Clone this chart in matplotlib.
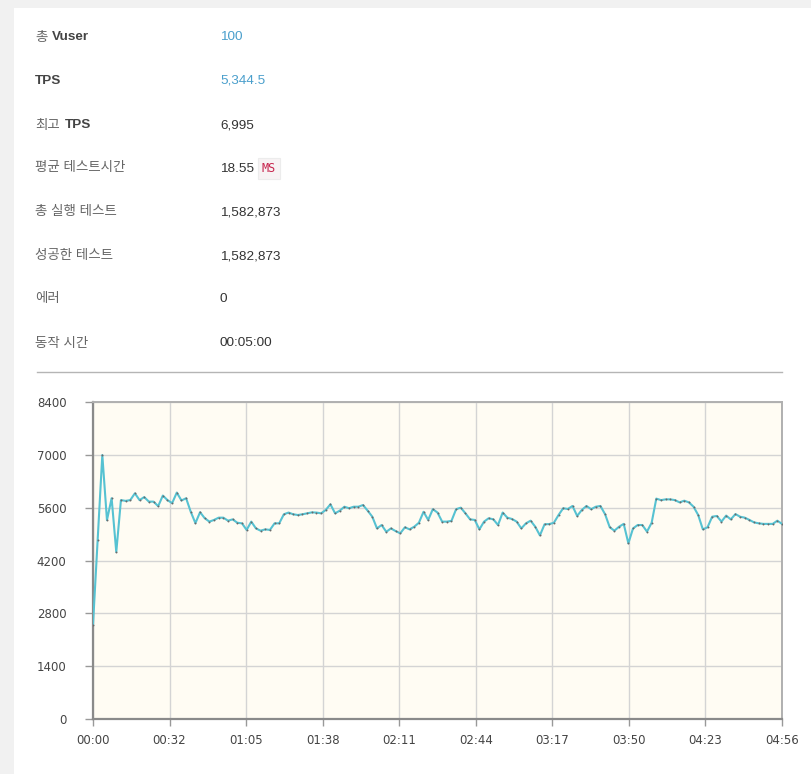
import numpy as np
import matplotlib
matplotlib.use("Agg")
import matplotlib.pyplot as plt
from matplotlib.patches import Rectangle
from matplotlib.lines import Line2D

# ---- data ----
interval_sec = 2
tps_values = [
    2500, 4750, 6995, 5270, 5850, 4425, 5800, 5780, 5800, 5980,
    5800, 5880, 5760, 5760, 5640, 5920, 5800, 5720, 6000, 5790,
    5850, 5490, 5190, 5480, 5320, 5230, 5275, 5335, 5335, 5255,
    5290, 5200, 5185, 5010, 5230, 5050, 4990, 5025, 5010, 5185,
    5185, 5425, 5470, 5425, 5405, 5425, 5450, 5475, 5470, 5450,
    5540, 5690, 5450, 5520, 5625, 5585, 5625, 5625, 5670, 5520,
    5360, 5050, 5140, 4960, 5050, 4980, 4920, 5080, 5025, 5095,
    5200, 5490, 5275, 5560, 5470, 5230, 5230, 5250, 5560, 5600,
    5450, 5290, 5275, 5025, 5230, 5320, 5290, 5140, 5470, 5335,
    5300, 5230, 5050, 5185, 5255, 5095, 4865, 5160, 5165, 5200,
    5405, 5585, 5565, 5645, 5380, 5540, 5645, 5560, 5625, 5645,
    5425, 5080, 4990, 5095, 5170, 4655, 5050, 5140, 5140, 4965,
    5200, 5840, 5800, 5820, 5820, 5800, 5740, 5785, 5740, 5625,
    5405, 5025, 5080, 5360, 5380, 5230, 5390, 5290, 5430, 5360,
    5335, 5275, 5210, 5185, 5170, 5170, 5170, 5255, 5170,
]
x_tick_labels = ["00:00", "00:32", "01:05", "01:38", "02:11",
                 "02:44", "03:17", "03:50", "04:23", "04:56"]
x_max_sec = 296
y_ticks = [0, 1400, 2800, 4200, 5600, 7000, 8400]

summary_labels = ["총 Vuser", "TPS", "최고 TPS", "평균 테스트시간",
                  "총 실행 테스트", "성공한 테스트", "에러", "동작 시간"]
summary_values = ["100", "5,344.5", "6,995", "18.55",
                  "1,582,873", "1,582,873", "0", "00:05:00"]

# ---- figure ----
W, H = 812, 774
fig = plt.figure(figsize=(W / 100, H / 100), dpi=100)
fig.patch.set_facecolor("#f1f1f1")

def fx(x):
    return x / W

def fy(y):
    return 1 - y / H

# white panel
fig.patches.append(Rectangle((fx(14), 0), 1 - fx(14), fy(8), transform=fig.transFigure,
                             facecolor="white", edgecolor="none", zorder=-10))

KR = ["Liberation Sans", "Noto Sans CJK KR", "DejaVu Sans"]
row_y = [37.5, 80.5, 125.5, 168.5, 212.5, 256.5, 299.5, 343.5]
label_color = "#666666"
bold_color = "#444444"
val_color = "#333333"
blue = "#4a9fcc"
fs = 9.7

for i, (lab, val) in enumerate(zip(summary_labels, summary_values)):
    y = fy(row_y[i])
    if lab == "총 Vuser":
        fig.text(fx(35), y, "총", family=KR, fontsize=fs, color=label_color, va="center")
        fig.text(fx(52), y, "Vuser", family=KR, fontsize=fs, color=bold_color,
                 weight="bold", va="center")
    elif lab == "TPS":
        fig.text(fx(35), y, "TPS", family=KR, fontsize=fs, color=bold_color,
                 weight="bold", va="center")
    elif lab == "최고 TPS":
        fig.text(fx(35), y, "최고", family=KR, fontsize=fs, color=label_color, va="center")
        fig.text(fx(65), y, "TPS", family=KR, fontsize=fs, color=bold_color,
                 weight="bold", va="center")
    else:
        fig.text(fx(35), y, lab, family=KR, fontsize=fs, color=label_color, va="center")
    color = blue if i < 2 else val_color
    fig.text(fx(220), y, val, family=KR, fontsize=fs, color=color, va="center")

# MS badge
fig.text(fx(262), fy(168.5), "MS", family=["DejaVu Sans Mono"], fontsize=8.5,
         color="#c7254e", va="center",
         bbox=dict(boxstyle="square,pad=0.35", facecolor="#f7f3f4",
                   edgecolor="#ececec", linewidth=0.8))

# divider
fig.lines.append(Line2D([fx(37), fx(782)], [fy(372), fy(372)], transform=fig.transFigure,
                        color="#b5b5b5", linewidth=1.0))

# ---- chart ----
ax = fig.add_axes([fx(93), fy(719), fx(782) - fx(93), fy(402) - fy(719)])
ax.set_facecolor("#fffcf3")

t = np.arange(len(tps_values)) * interval_sec
ax.plot(t, tps_values, color="#56c2d2", linewidth=1.5, zorder=3,
        marker="o", markersize=1.4, markerfacecolor="#6a6a6a",
        markeredgecolor="#6a6a6a", markeredgewidth=0)

ax.set_xlim(0, x_max_sec)
ax.set_ylim(0, 8400)
ax.set_xticks(np.linspace(0, x_max_sec, len(x_tick_labels)))
ax.set_xticklabels(x_tick_labels)
ax.set_yticks(y_ticks)
ax.set_yticklabels([str(v) for v in y_ticks])
ax.grid(True, color="#d4d4d4", linewidth=1.0, zorder=0)
ax.set_axisbelow(True)

for side in ["left", "bottom"]:
    ax.spines[side].set_color("#8a8a8a")
    ax.spines[side].set_linewidth(1.6)
for side in ["top", "right"]:
    ax.spines[side].set_color("#b0b0b0")
    ax.spines[side].set_linewidth(1.4)

ax.tick_params(axis="y", direction="out", length=6, width=1.0, color="#999999",
               labelsize=8.5, labelcolor="#444444", pad=13)
ax.tick_params(axis="x", direction="out", length=5, width=1.0, color="#999999",
               labelsize=8.5, labelcolor="#444444", pad=6)
for lbl in ax.get_xticklabels() + ax.get_yticklabels():
    lbl.set_family(["DejaVu Sans"])

fig.savefig("out.png", dpi=100, facecolor=fig.get_facecolor())
